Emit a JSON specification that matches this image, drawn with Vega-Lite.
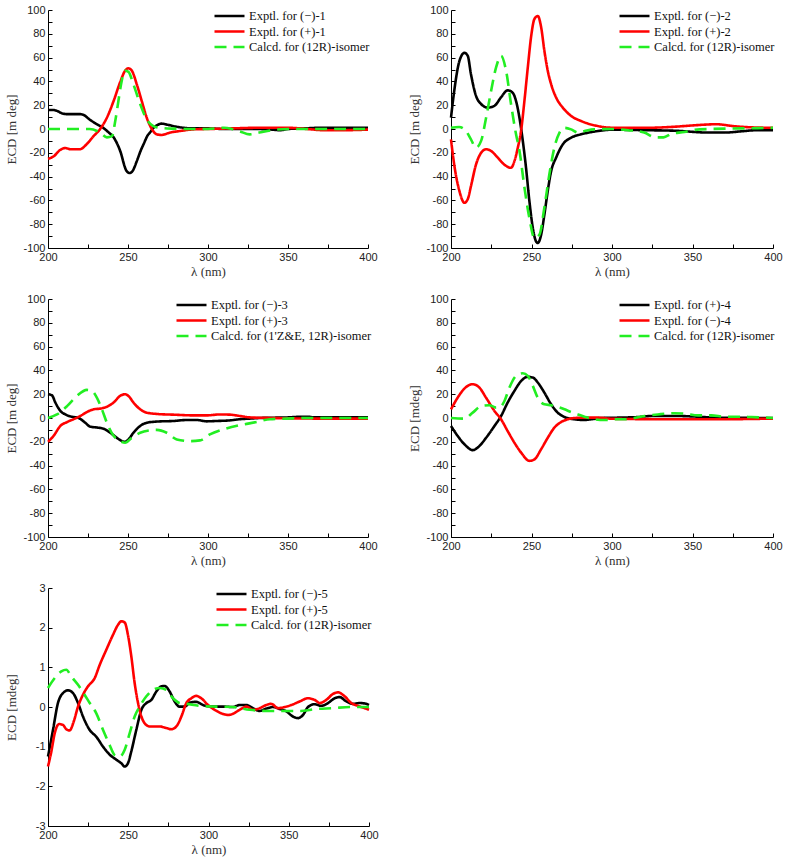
{
  "$schema": "https://vega.github.io/schema/vega-lite/v6.json",
  "background": "white",
  "padding": {"left": 5, "top": 4, "right": 5, "bottom": 5},
  "spacing": 15,
  "datasets": {
    "p1": [
      {"s": "Exptl. for (−)-1", "x": 200, "y": 16}, {"s": "Exptl. for (−)-1", "x": 203, "y": 16}, {"s": "Exptl. for (−)-1", "x": 206, "y": 15}, {"s": "Exptl. for (−)-1", "x": 209, "y": 13}, {"s": "Exptl. for (−)-1", "x": 212, "y": 12.5}, {"s": "Exptl. for (−)-1", "x": 216, "y": 12.5}, {"s": "Exptl. for (−)-1", "x": 220, "y": 12.5}, {"s": "Exptl. for (−)-1", "x": 222, "y": 12}, {"s": "Exptl. for (−)-1", "x": 226, "y": 8}, {"s": "Exptl. for (−)-1", "x": 230.5, "y": 4}, {"s": "Exptl. for (−)-1", "x": 234.5, "y": 1}, {"s": "Exptl. for (−)-1", "x": 238, "y": -3}, {"s": "Exptl. for (−)-1", "x": 241, "y": -7}, {"s": "Exptl. for (−)-1", "x": 245, "y": -18}, {"s": "Exptl. for (−)-1", "x": 249, "y": -35}, {"s": "Exptl. for (−)-1", "x": 251, "y": -37}, {"s": "Exptl. for (−)-1", "x": 253, "y": -35}, {"s": "Exptl. for (−)-1", "x": 255.5, "y": -27}, {"s": "Exptl. for (−)-1", "x": 258, "y": -18}, {"s": "Exptl. for (−)-1", "x": 260, "y": -12}, {"s": "Exptl. for (−)-1", "x": 262, "y": -6}, {"s": "Exptl. for (−)-1", "x": 264, "y": -2.5}, {"s": "Exptl. for (−)-1", "x": 266, "y": 1}, {"s": "Exptl. for (−)-1", "x": 268, "y": 3}, {"s": "Exptl. for (−)-1", "x": 271, "y": 4.5}, {"s": "Exptl. for (−)-1", "x": 275, "y": 3.5}, {"s": "Exptl. for (−)-1", "x": 280, "y": 2}, {"s": "Exptl. for (−)-1", "x": 285, "y": 1}, {"s": "Exptl. for (−)-1", "x": 290, "y": 0.5}, {"s": "Exptl. for (−)-1", "x": 300, "y": 0.5}, {"s": "Exptl. for (−)-1", "x": 310, "y": 0}, {"s": "Exptl. for (−)-1", "x": 320, "y": 0}, {"s": "Exptl. for (−)-1", "x": 330, "y": 0}, {"s": "Exptl. for (−)-1", "x": 340, "y": -0.5}, {"s": "Exptl. for (−)-1", "x": 345, "y": -1}, {"s": "Exptl. for (−)-1", "x": 350, "y": 0}, {"s": "Exptl. for (−)-1", "x": 360, "y": 0.5}, {"s": "Exptl. for (−)-1", "x": 370, "y": 1}, {"s": "Exptl. for (−)-1", "x": 385, "y": 1}, {"s": "Exptl. for (−)-1", "x": 400, "y": 1},
      {"s": "Exptl. for (+)-1", "x": 200, "y": -25}, {"s": "Exptl. for (+)-1", "x": 203.5, "y": -23}, {"s": "Exptl. for (+)-1", "x": 207.7, "y": -17.5}, {"s": "Exptl. for (+)-1", "x": 210.8, "y": -16}, {"s": "Exptl. for (+)-1", "x": 214, "y": -17}, {"s": "Exptl. for (+)-1", "x": 220, "y": -17}, {"s": "Exptl. for (+)-1", "x": 224, "y": -13}, {"s": "Exptl. for (+)-1", "x": 228.5, "y": -6}, {"s": "Exptl. for (+)-1", "x": 232.6, "y": 0}, {"s": "Exptl. for (+)-1", "x": 236.8, "y": 9.5}, {"s": "Exptl. for (+)-1", "x": 241, "y": 23.5}, {"s": "Exptl. for (+)-1", "x": 245, "y": 39}, {"s": "Exptl. for (+)-1", "x": 248.2, "y": 49}, {"s": "Exptl. for (+)-1", "x": 250.3, "y": 51}, {"s": "Exptl. for (+)-1", "x": 252.4, "y": 49}, {"s": "Exptl. for (+)-1", "x": 255.5, "y": 37.5}, {"s": "Exptl. for (+)-1", "x": 258.6, "y": 23.5}, {"s": "Exptl. for (+)-1", "x": 261.7, "y": 9.5}, {"s": "Exptl. for (+)-1", "x": 264.9, "y": 0}, {"s": "Exptl. for (+)-1", "x": 268, "y": -4.5}, {"s": "Exptl. for (+)-1", "x": 271, "y": -5}, {"s": "Exptl. for (+)-1", "x": 276.3, "y": -3}, {"s": "Exptl. for (+)-1", "x": 282.5, "y": -1.7}, {"s": "Exptl. for (+)-1", "x": 291, "y": -0.3}, {"s": "Exptl. for (+)-1", "x": 300, "y": 0}, {"s": "Exptl. for (+)-1", "x": 315, "y": 0.5}, {"s": "Exptl. for (+)-1", "x": 330, "y": 1}, {"s": "Exptl. for (+)-1", "x": 350, "y": 1}, {"s": "Exptl. for (+)-1", "x": 362, "y": 0}, {"s": "Exptl. for (+)-1", "x": 372, "y": -1}, {"s": "Exptl. for (+)-1", "x": 385, "y": -1}, {"s": "Exptl. for (+)-1", "x": 400, "y": -0.5},
      {"s": "Calcd. for (12R)-isomer", "x": 200, "y": 0}, {"s": "Calcd. for (12R)-isomer", "x": 215, "y": 0}, {"s": "Calcd. for (12R)-isomer", "x": 226, "y": 0}, {"s": "Calcd. for (12R)-isomer", "x": 232.6, "y": -3}, {"s": "Calcd. for (12R)-isomer", "x": 236.8, "y": -7}, {"s": "Calcd. for (12R)-isomer", "x": 240, "y": -6}, {"s": "Calcd. for (12R)-isomer", "x": 242, "y": 6.5}, {"s": "Calcd. for (12R)-isomer", "x": 244, "y": 23.5}, {"s": "Calcd. for (12R)-isomer", "x": 246, "y": 40}, {"s": "Calcd. for (12R)-isomer", "x": 248.2, "y": 49}, {"s": "Calcd. for (12R)-isomer", "x": 250.3, "y": 48}, {"s": "Calcd. for (12R)-isomer", "x": 253.4, "y": 37.5}, {"s": "Calcd. for (12R)-isomer", "x": 257.6, "y": 21}, {"s": "Calcd. for (12R)-isomer", "x": 261.7, "y": 8}, {"s": "Calcd. for (12R)-isomer", "x": 265.9, "y": 2.5}, {"s": "Calcd. for (12R)-isomer", "x": 270, "y": 1}, {"s": "Calcd. for (12R)-isomer", "x": 278, "y": 0.3}, {"s": "Calcd. for (12R)-isomer", "x": 290, "y": 0}, {"s": "Calcd. for (12R)-isomer", "x": 300, "y": 0}, {"s": "Calcd. for (12R)-isomer", "x": 310, "y": 1}, {"s": "Calcd. for (12R)-isomer", "x": 315, "y": 0}, {"s": "Calcd. for (12R)-isomer", "x": 320, "y": -2}, {"s": "Calcd. for (12R)-isomer", "x": 326, "y": -4.5}, {"s": "Calcd. for (12R)-isomer", "x": 332, "y": -3}, {"s": "Calcd. for (12R)-isomer", "x": 340, "y": -1}, {"s": "Calcd. for (12R)-isomer", "x": 350, "y": 0}, {"s": "Calcd. for (12R)-isomer", "x": 375, "y": 0}, {"s": "Calcd. for (12R)-isomer", "x": 400, "y": 0}
    ],
    "p2": [
      {"s": "Exptl. for (−)-2", "x": 200, "y": 9.6}, {"s": "Exptl. for (−)-2", "x": 202, "y": 32}, {"s": "Exptl. for (−)-2", "x": 205.2, "y": 57}, {"s": "Exptl. for (−)-2", "x": 208.3, "y": 64}, {"s": "Exptl. for (−)-2", "x": 210.4, "y": 61.5}, {"s": "Exptl. for (−)-2", "x": 212.4, "y": 46}, {"s": "Exptl. for (−)-2", "x": 215.5, "y": 28}, {"s": "Exptl. for (−)-2", "x": 218.7, "y": 21}, {"s": "Exptl. for (−)-2", "x": 222.8, "y": 18}, {"s": "Exptl. for (−)-2", "x": 227, "y": 19.5}, {"s": "Exptl. for (−)-2", "x": 231, "y": 26.5}, {"s": "Exptl. for (−)-2", "x": 235.2, "y": 32.5}, {"s": "Exptl. for (−)-2", "x": 238.3, "y": 30.5}, {"s": "Exptl. for (−)-2", "x": 240.4, "y": 23.5}, {"s": "Exptl. for (−)-2", "x": 242.5, "y": 9.6}, {"s": "Exptl. for (−)-2", "x": 244.6, "y": -10}, {"s": "Exptl. for (−)-2", "x": 246.6, "y": -32.6}, {"s": "Exptl. for (−)-2", "x": 248.7, "y": -60.7}, {"s": "Exptl. for (−)-2", "x": 250.8, "y": -83}, {"s": "Exptl. for (−)-2", "x": 252.8, "y": -94.4}, {"s": "Exptl. for (−)-2", "x": 253.9, "y": -95.8}, {"s": "Exptl. for (−)-2", "x": 256, "y": -88.8}, {"s": "Exptl. for (−)-2", "x": 258, "y": -72}, {"s": "Exptl. for (−)-2", "x": 260.1, "y": -52}, {"s": "Exptl. for (−)-2", "x": 262.2, "y": -35.4}, {"s": "Exptl. for (−)-2", "x": 265.3, "y": -24}, {"s": "Exptl. for (−)-2", "x": 269.4, "y": -13}, {"s": "Exptl. for (−)-2", "x": 274.6, "y": -7.3}, {"s": "Exptl. for (−)-2", "x": 280.8, "y": -4.5}, {"s": "Exptl. for (−)-2", "x": 291.2, "y": -1.7}, {"s": "Exptl. for (−)-2", "x": 299.5, "y": -0.6}, {"s": "Exptl. for (−)-2", "x": 320, "y": -1}, {"s": "Exptl. for (−)-2", "x": 340, "y": -1.5}, {"s": "Exptl. for (−)-2", "x": 360, "y": -3}, {"s": "Exptl. for (−)-2", "x": 370, "y": -3}, {"s": "Exptl. for (−)-2", "x": 380, "y": -2}, {"s": "Exptl. for (−)-2", "x": 390, "y": -1}, {"s": "Exptl. for (−)-2", "x": 400, "y": -1},
      {"s": "Exptl. for (+)-2", "x": 200, "y": -8.7}, {"s": "Exptl. for (+)-2", "x": 202, "y": -30}, {"s": "Exptl. for (+)-2", "x": 205.2, "y": -52}, {"s": "Exptl. for (+)-2", "x": 208.3, "y": -62}, {"s": "Exptl. for (+)-2", "x": 210.4, "y": -59}, {"s": "Exptl. for (+)-2", "x": 212.4, "y": -48}, {"s": "Exptl. for (+)-2", "x": 215.5, "y": -30}, {"s": "Exptl. for (+)-2", "x": 218.7, "y": -20}, {"s": "Exptl. for (+)-2", "x": 221.8, "y": -17}, {"s": "Exptl. for (+)-2", "x": 224.9, "y": -18.5}, {"s": "Exptl. for (+)-2", "x": 229, "y": -24}, {"s": "Exptl. for (+)-2", "x": 233.2, "y": -30}, {"s": "Exptl. for (+)-2", "x": 237.3, "y": -32.6}, {"s": "Exptl. for (+)-2", "x": 239.4, "y": -27}, {"s": "Exptl. for (+)-2", "x": 241.5, "y": -15.7}, {"s": "Exptl. for (+)-2", "x": 243.5, "y": -1.7}, {"s": "Exptl. for (+)-2", "x": 245.6, "y": 23.6}, {"s": "Exptl. for (+)-2", "x": 247.7, "y": 51.7}, {"s": "Exptl. for (+)-2", "x": 249.7, "y": 77}, {"s": "Exptl. for (+)-2", "x": 251.8, "y": 92.4}, {"s": "Exptl. for (+)-2", "x": 253.9, "y": 95}, {"s": "Exptl. for (+)-2", "x": 256, "y": 85.4}, {"s": "Exptl. for (+)-2", "x": 258, "y": 65.7}, {"s": "Exptl. for (+)-2", "x": 260.1, "y": 48.9}, {"s": "Exptl. for (+)-2", "x": 262.2, "y": 37.6}, {"s": "Exptl. for (+)-2", "x": 265.3, "y": 26.4}, {"s": "Exptl. for (+)-2", "x": 269.4, "y": 18}, {"s": "Exptl. for (+)-2", "x": 274.6, "y": 11}, {"s": "Exptl. for (+)-2", "x": 280.8, "y": 6.7}, {"s": "Exptl. for (+)-2", "x": 291.2, "y": 2.5}, {"s": "Exptl. for (+)-2", "x": 299.5, "y": 1.1}, {"s": "Exptl. for (+)-2", "x": 320, "y": 1}, {"s": "Exptl. for (+)-2", "x": 340, "y": 2}, {"s": "Exptl. for (+)-2", "x": 350, "y": 3}, {"s": "Exptl. for (+)-2", "x": 365, "y": 4}, {"s": "Exptl. for (+)-2", "x": 375, "y": 2.5}, {"s": "Exptl. for (+)-2", "x": 385, "y": 1.5}, {"s": "Exptl. for (+)-2", "x": 400, "y": 1},
      {"s": "Calcd. for (12R)-isomer", "x": 200, "y": 1}, {"s": "Calcd. for (12R)-isomer", "x": 205, "y": 1.7}, {"s": "Calcd. for (12R)-isomer", "x": 209.3, "y": -1.7}, {"s": "Calcd. for (12R)-isomer", "x": 212.4, "y": -8.7}, {"s": "Calcd. for (12R)-isomer", "x": 215.5, "y": -15.7}, {"s": "Calcd. for (12R)-isomer", "x": 218.7, "y": -10}, {"s": "Calcd. for (12R)-isomer", "x": 221.8, "y": 9.5}, {"s": "Calcd. for (12R)-isomer", "x": 224.9, "y": 32}, {"s": "Calcd. for (12R)-isomer", "x": 228, "y": 51.7}, {"s": "Calcd. for (12R)-isomer", "x": 231.1, "y": 61.5}, {"s": "Calcd. for (12R)-isomer", "x": 234.2, "y": 49}, {"s": "Calcd. for (12R)-isomer", "x": 237.3, "y": 20.8}, {"s": "Calcd. for (12R)-isomer", "x": 240.4, "y": -4.5}, {"s": "Calcd. for (12R)-isomer", "x": 242.5, "y": -18}, {"s": "Calcd. for (12R)-isomer", "x": 245.6, "y": -49}, {"s": "Calcd. for (12R)-isomer", "x": 248.7, "y": -75}, {"s": "Calcd. for (12R)-isomer", "x": 251.8, "y": -91.6}, {"s": "Calcd. for (12R)-isomer", "x": 254.9, "y": -88.8}, {"s": "Calcd. for (12R)-isomer", "x": 258, "y": -66}, {"s": "Calcd. for (12R)-isomer", "x": 261.1, "y": -38}, {"s": "Calcd. for (12R)-isomer", "x": 264.2, "y": -15.7}, {"s": "Calcd. for (12R)-isomer", "x": 267.4, "y": -3}, {"s": "Calcd. for (12R)-isomer", "x": 270.5, "y": 1}, {"s": "Calcd. for (12R)-isomer", "x": 274.6, "y": -0.3}, {"s": "Calcd. for (12R)-isomer", "x": 278.8, "y": -3}, {"s": "Calcd. for (12R)-isomer", "x": 283, "y": -1.7}, {"s": "Calcd. for (12R)-isomer", "x": 289, "y": -0.3}, {"s": "Calcd. for (12R)-isomer", "x": 300, "y": 0}, {"s": "Calcd. for (12R)-isomer", "x": 310, "y": -1}, {"s": "Calcd. for (12R)-isomer", "x": 320, "y": -3}, {"s": "Calcd. for (12R)-isomer", "x": 327, "y": -7}, {"s": "Calcd. for (12R)-isomer", "x": 332, "y": -7}, {"s": "Calcd. for (12R)-isomer", "x": 337, "y": -4}, {"s": "Calcd. for (12R)-isomer", "x": 345, "y": -2.5}, {"s": "Calcd. for (12R)-isomer", "x": 350, "y": -1}, {"s": "Calcd. for (12R)-isomer", "x": 360, "y": 0}, {"s": "Calcd. for (12R)-isomer", "x": 380, "y": 0.5}, {"s": "Calcd. for (12R)-isomer", "x": 400, "y": 1}
    ],
    "p3": [
      {"s": "Exptl. for (−)-3", "x": 200, "y": 20}, {"s": "Exptl. for (−)-3", "x": 202.5, "y": 19}, {"s": "Exptl. for (−)-3", "x": 204.6, "y": 13}, {"s": "Exptl. for (−)-3", "x": 207.7, "y": 6}, {"s": "Exptl. for (−)-3", "x": 210.8, "y": 3}, {"s": "Exptl. for (−)-3", "x": 215, "y": 1}, {"s": "Exptl. for (−)-3", "x": 219.1, "y": 0}, {"s": "Exptl. for (−)-3", "x": 223.3, "y": -4}, {"s": "Exptl. for (−)-3", "x": 226.4, "y": -7.3}, {"s": "Exptl. for (−)-3", "x": 230.6, "y": -8}, {"s": "Exptl. for (−)-3", "x": 234.7, "y": -9}, {"s": "Exptl. for (−)-3", "x": 238.9, "y": -12.4}, {"s": "Exptl. for (−)-3", "x": 243, "y": -16.6}, {"s": "Exptl. for (−)-3", "x": 246.2, "y": -19.4}, {"s": "Exptl. for (−)-3", "x": 248.2, "y": -20}, {"s": "Exptl. for (−)-3", "x": 250.3, "y": -18}, {"s": "Exptl. for (−)-3", "x": 253.4, "y": -12.4}, {"s": "Exptl. for (−)-3", "x": 257.6, "y": -6.7}, {"s": "Exptl. for (−)-3", "x": 261.7, "y": -4}, {"s": "Exptl. for (−)-3", "x": 268, "y": -3}, {"s": "Exptl. for (−)-3", "x": 278.4, "y": -2.5}, {"s": "Exptl. for (−)-3", "x": 286.7, "y": -1.7}, {"s": "Exptl. for (−)-3", "x": 293, "y": -1.7}, {"s": "Exptl. for (−)-3", "x": 299.2, "y": -2.8}, {"s": "Exptl. for (−)-3", "x": 305.4, "y": -2.5}, {"s": "Exptl. for (−)-3", "x": 313.7, "y": -2}, {"s": "Exptl. for (−)-3", "x": 320, "y": -1}, {"s": "Exptl. for (−)-3", "x": 326.2, "y": -0.5}, {"s": "Exptl. for (−)-3", "x": 332.4, "y": 0}, {"s": "Exptl. for (−)-3", "x": 350, "y": 0.5}, {"s": "Exptl. for (−)-3", "x": 358, "y": 1}, {"s": "Exptl. for (−)-3", "x": 363, "y": 1}, {"s": "Exptl. for (−)-3", "x": 366, "y": 0.5}, {"s": "Exptl. for (−)-3", "x": 400, "y": 0.5},
      {"s": "Exptl. for (+)-3", "x": 200, "y": -20}, {"s": "Exptl. for (+)-3", "x": 203.5, "y": -15}, {"s": "Exptl. for (+)-3", "x": 207.7, "y": -6.7}, {"s": "Exptl. for (+)-3", "x": 211.9, "y": -3.4}, {"s": "Exptl. for (+)-3", "x": 216, "y": -1}, {"s": "Exptl. for (+)-3", "x": 220.2, "y": 1.7}, {"s": "Exptl. for (+)-3", "x": 224.3, "y": 5}, {"s": "Exptl. for (+)-3", "x": 228.5, "y": 7.3}, {"s": "Exptl. for (+)-3", "x": 232.6, "y": 7.9}, {"s": "Exptl. for (+)-3", "x": 236.8, "y": 9.5}, {"s": "Exptl. for (+)-3", "x": 241, "y": 13}, {"s": "Exptl. for (+)-3", "x": 245, "y": 18.5}, {"s": "Exptl. for (+)-3", "x": 248.2, "y": 20}, {"s": "Exptl. for (+)-3", "x": 250.3, "y": 18.5}, {"s": "Exptl. for (+)-3", "x": 253.4, "y": 13}, {"s": "Exptl. for (+)-3", "x": 257.6, "y": 7.3}, {"s": "Exptl. for (+)-3", "x": 261.7, "y": 4.5}, {"s": "Exptl. for (+)-3", "x": 268, "y": 3.4}, {"s": "Exptl. for (+)-3", "x": 278.4, "y": 2.8}, {"s": "Exptl. for (+)-3", "x": 290.9, "y": 2.2}, {"s": "Exptl. for (+)-3", "x": 299.2, "y": 2.2}, {"s": "Exptl. for (+)-3", "x": 307.5, "y": 3}, {"s": "Exptl. for (+)-3", "x": 313.7, "y": 2.8}, {"s": "Exptl. for (+)-3", "x": 320, "y": 1.7}, {"s": "Exptl. for (+)-3", "x": 326.2, "y": 0.5}, {"s": "Exptl. for (+)-3", "x": 340, "y": 0}, {"s": "Exptl. for (+)-3", "x": 370, "y": -0.5}, {"s": "Exptl. for (+)-3", "x": 400, "y": -0.5},
      {"s": "Calcd. for (1'Z&E, 12R)-isomer", "x": 200, "y": 0}, {"s": "Calcd. for (1'Z&E, 12R)-isomer", "x": 205.6, "y": 3}, {"s": "Calcd. for (1'Z&E, 12R)-isomer", "x": 211.9, "y": 10}, {"s": "Calcd. for (1'Z&E, 12R)-isomer", "x": 218, "y": 18.5}, {"s": "Calcd. for (1'Z&E, 12R)-isomer", "x": 224.3, "y": 23.6}, {"s": "Calcd. for (1'Z&E, 12R)-isomer", "x": 227.4, "y": 22.8}, {"s": "Calcd. for (1'Z&E, 12R)-isomer", "x": 230.6, "y": 17}, {"s": "Calcd. for (1'Z&E, 12R)-isomer", "x": 233.7, "y": 7.3}, {"s": "Calcd. for (1'Z&E, 12R)-isomer", "x": 236.8, "y": -4}, {"s": "Calcd. for (1'Z&E, 12R)-isomer", "x": 241, "y": -15}, {"s": "Calcd. for (1'Z&E, 12R)-isomer", "x": 245.1, "y": -19.4}, {"s": "Calcd. for (1'Z&E, 12R)-isomer", "x": 248.2, "y": -20.8}, {"s": "Calcd. for (1'Z&E, 12R)-isomer", "x": 252.4, "y": -16.6}, {"s": "Calcd. for (1'Z&E, 12R)-isomer", "x": 257.6, "y": -12.4}, {"s": "Calcd. for (1'Z&E, 12R)-isomer", "x": 263.8, "y": -10.4}, {"s": "Calcd. for (1'Z&E, 12R)-isomer", "x": 268, "y": -10}, {"s": "Calcd. for (1'Z&E, 12R)-isomer", "x": 274.2, "y": -12.4}, {"s": "Calcd. for (1'Z&E, 12R)-isomer", "x": 280.5, "y": -18}, {"s": "Calcd. for (1'Z&E, 12R)-isomer", "x": 288.8, "y": -19.4}, {"s": "Calcd. for (1'Z&E, 12R)-isomer", "x": 295, "y": -18.8}, {"s": "Calcd. for (1'Z&E, 12R)-isomer", "x": 301.2, "y": -13.8}, {"s": "Calcd. for (1'Z&E, 12R)-isomer", "x": 309.6, "y": -9.6}, {"s": "Calcd. for (1'Z&E, 12R)-isomer", "x": 320, "y": -6}, {"s": "Calcd. for (1'Z&E, 12R)-isomer", "x": 330.4, "y": -3.4}, {"s": "Calcd. for (1'Z&E, 12R)-isomer", "x": 338.7, "y": -1}, {"s": "Calcd. for (1'Z&E, 12R)-isomer", "x": 349, "y": -0.5}, {"s": "Calcd. for (1'Z&E, 12R)-isomer", "x": 360, "y": 0}, {"s": "Calcd. for (1'Z&E, 12R)-isomer", "x": 400, "y": 0}
    ],
    "p4": [
      {"s": "Exptl. for (+)-4", "x": 200, "y": -6.7}, {"s": "Exptl. for (+)-4", "x": 204.1, "y": -15}, {"s": "Exptl. for (+)-4", "x": 208.3, "y": -22}, {"s": "Exptl. for (+)-4", "x": 213.5, "y": -27}, {"s": "Exptl. for (+)-4", "x": 217.6, "y": -23.6}, {"s": "Exptl. for (+)-4", "x": 221.8, "y": -16.6}, {"s": "Exptl. for (+)-4", "x": 227, "y": -6.7}, {"s": "Exptl. for (+)-4", "x": 231.1, "y": 1.7}, {"s": "Exptl. for (+)-4", "x": 235.2, "y": 13}, {"s": "Exptl. for (+)-4", "x": 239.4, "y": 22.8}, {"s": "Exptl. for (+)-4", "x": 243.5, "y": 31}, {"s": "Exptl. for (+)-4", "x": 247.7, "y": 34.6}, {"s": "Exptl. for (+)-4", "x": 250.8, "y": 34}, {"s": "Exptl. for (+)-4", "x": 253.9, "y": 29.8}, {"s": "Exptl. for (+)-4", "x": 258, "y": 21.3}, {"s": "Exptl. for (+)-4", "x": 262.2, "y": 11.5}, {"s": "Exptl. for (+)-4", "x": 266.3, "y": 4.5}, {"s": "Exptl. for (+)-4", "x": 270.5, "y": 0.8}, {"s": "Exptl. for (+)-4", "x": 276.7, "y": -1.1}, {"s": "Exptl. for (+)-4", "x": 282.9, "y": -1.7}, {"s": "Exptl. for (+)-4", "x": 287, "y": -1.1}, {"s": "Exptl. for (+)-4", "x": 293.3, "y": 0}, {"s": "Exptl. for (+)-4", "x": 303.6, "y": 0.3}, {"s": "Exptl. for (+)-4", "x": 316, "y": 0.8}, {"s": "Exptl. for (+)-4", "x": 324.4, "y": 1.7}, {"s": "Exptl. for (+)-4", "x": 338.9, "y": 1.7}, {"s": "Exptl. for (+)-4", "x": 353.4, "y": 1.1}, {"s": "Exptl. for (+)-4", "x": 363.7, "y": 0.3}, {"s": "Exptl. for (+)-4", "x": 400, "y": 0},
      {"s": "Exptl. for (−)-4", "x": 200, "y": 7.3}, {"s": "Exptl. for (−)-4", "x": 204.1, "y": 17}, {"s": "Exptl. for (−)-4", "x": 208.3, "y": 24.7}, {"s": "Exptl. for (−)-4", "x": 213.5, "y": 28.4}, {"s": "Exptl. for (−)-4", "x": 217.6, "y": 25.6}, {"s": "Exptl. for (−)-4", "x": 221.8, "y": 17}, {"s": "Exptl. for (−)-4", "x": 227, "y": 5.9}, {"s": "Exptl. for (−)-4", "x": 231.1, "y": -1.1}, {"s": "Exptl. for (−)-4", "x": 235.2, "y": -11}, {"s": "Exptl. for (−)-4", "x": 239.4, "y": -20.8}, {"s": "Exptl. for (−)-4", "x": 243.5, "y": -29}, {"s": "Exptl. for (−)-4", "x": 248.7, "y": -36}, {"s": "Exptl. for (−)-4", "x": 251.8, "y": -34.8}, {"s": "Exptl. for (−)-4", "x": 255.9, "y": -26.4}, {"s": "Exptl. for (−)-4", "x": 260.1, "y": -16.6}, {"s": "Exptl. for (−)-4", "x": 264.2, "y": -8.1}, {"s": "Exptl. for (−)-4", "x": 268.4, "y": -3.4}, {"s": "Exptl. for (−)-4", "x": 272.5, "y": -1.1}, {"s": "Exptl. for (−)-4", "x": 276.7, "y": 0}, {"s": "Exptl. for (−)-4", "x": 282.9, "y": 0.3}, {"s": "Exptl. for (−)-4", "x": 291.2, "y": 0.3}, {"s": "Exptl. for (−)-4", "x": 299.5, "y": -0.6}, {"s": "Exptl. for (−)-4", "x": 307.8, "y": -0.8}, {"s": "Exptl. for (−)-4", "x": 330, "y": -1}, {"s": "Exptl. for (−)-4", "x": 370, "y": -1}, {"s": "Exptl. for (−)-4", "x": 400, "y": -0.5},
      {"s": "Calcd. for (12R)-isomer", "x": 200, "y": 0}, {"s": "Calcd. for (12R)-isomer", "x": 208.3, "y": -0.5}, {"s": "Calcd. for (12R)-isomer", "x": 213.5, "y": 4.5}, {"s": "Calcd. for (12R)-isomer", "x": 218.7, "y": 10}, {"s": "Calcd. for (12R)-isomer", "x": 223.8, "y": 10.7}, {"s": "Calcd. for (12R)-isomer", "x": 228, "y": 8.7}, {"s": "Calcd. for (12R)-isomer", "x": 230, "y": 8.7}, {"s": "Calcd. for (12R)-isomer", "x": 233.2, "y": 14.3}, {"s": "Calcd. for (12R)-isomer", "x": 236.3, "y": 25.6}, {"s": "Calcd. for (12R)-isomer", "x": 240.4, "y": 35.4}, {"s": "Calcd. for (12R)-isomer", "x": 244.6, "y": 37.6}, {"s": "Calcd. for (12R)-isomer", "x": 247.7, "y": 35.4}, {"s": "Calcd. for (12R)-isomer", "x": 250.8, "y": 27}, {"s": "Calcd. for (12R)-isomer", "x": 253.9, "y": 17}, {"s": "Calcd. for (12R)-isomer", "x": 258, "y": 11.5}, {"s": "Calcd. for (12R)-isomer", "x": 262.2, "y": 10.7}, {"s": "Calcd. for (12R)-isomer", "x": 266.3, "y": 9.3}, {"s": "Calcd. for (12R)-isomer", "x": 270.5, "y": 7.3}, {"s": "Calcd. for (12R)-isomer", "x": 274.6, "y": 5}, {"s": "Calcd. for (12R)-isomer", "x": 278.8, "y": 3}, {"s": "Calcd. for (12R)-isomer", "x": 282.9, "y": 1.1}, {"s": "Calcd. for (12R)-isomer", "x": 289.1, "y": -1.1}, {"s": "Calcd. for (12R)-isomer", "x": 295.3, "y": -1.7}, {"s": "Calcd. for (12R)-isomer", "x": 301.6, "y": -1.1}, {"s": "Calcd. for (12R)-isomer", "x": 307.8, "y": -1.1}, {"s": "Calcd. for (12R)-isomer", "x": 311.9, "y": -0.5}, {"s": "Calcd. for (12R)-isomer", "x": 320.2, "y": 1.7}, {"s": "Calcd. for (12R)-isomer", "x": 328.5, "y": 3}, {"s": "Calcd. for (12R)-isomer", "x": 338.9, "y": 4}, {"s": "Calcd. for (12R)-isomer", "x": 345.1, "y": 3.7}, {"s": "Calcd. for (12R)-isomer", "x": 353.4, "y": 2.2}, {"s": "Calcd. for (12R)-isomer", "x": 361.7, "y": 2.2}, {"s": "Calcd. for (12R)-isomer", "x": 370, "y": 1.1}, {"s": "Calcd. for (12R)-isomer", "x": 378.2, "y": 1.1}, {"s": "Calcd. for (12R)-isomer", "x": 386.5, "y": 0.8}, {"s": "Calcd. for (12R)-isomer", "x": 400, "y": 0}
    ],
    "p5": [
      {"s": "Exptl. for (−)-5", "x": 200, "y": -1.25}, {"s": "Exptl. for (−)-5", "x": 203.1, "y": -0.58}, {"s": "Exptl. for (−)-5", "x": 206.2, "y": 0.1}, {"s": "Exptl. for (−)-5", "x": 209.3, "y": 0.35}, {"s": "Exptl. for (−)-5", "x": 212.5, "y": 0.42}, {"s": "Exptl. for (−)-5", "x": 215.6, "y": 0.35}, {"s": "Exptl. for (−)-5", "x": 218.7, "y": 0.1}, {"s": "Exptl. for (−)-5", "x": 221.8, "y": -0.24}, {"s": "Exptl. for (−)-5", "x": 226, "y": -0.58}, {"s": "Exptl. for (−)-5", "x": 230.1, "y": -0.75}, {"s": "Exptl. for (−)-5", "x": 234.3, "y": -1}, {"s": "Exptl. for (−)-5", "x": 238.4, "y": -1.2}, {"s": "Exptl. for (−)-5", "x": 242.6, "y": -1.33}, {"s": "Exptl. for (−)-5", "x": 245.7, "y": -1.42}, {"s": "Exptl. for (−)-5", "x": 247.8, "y": -1.5}, {"s": "Exptl. for (−)-5", "x": 249.8, "y": -1.42}, {"s": "Exptl. for (−)-5", "x": 251.9, "y": -1.12}, {"s": "Exptl. for (−)-5", "x": 255, "y": -0.58}, {"s": "Exptl. for (−)-5", "x": 258.2, "y": -0.07}, {"s": "Exptl. for (−)-5", "x": 261.3, "y": 0.1}, {"s": "Exptl. for (−)-5", "x": 264.4, "y": 0.18}, {"s": "Exptl. for (−)-5", "x": 267.5, "y": 0.39}, {"s": "Exptl. for (−)-5", "x": 270.6, "y": 0.52}, {"s": "Exptl. for (−)-5", "x": 272.7, "y": 0.53}, {"s": "Exptl. for (−)-5", "x": 275.8, "y": 0.39}, {"s": "Exptl. for (−)-5", "x": 278.9, "y": 0.14}, {"s": "Exptl. for (−)-5", "x": 282, "y": 0.01}, {"s": "Exptl. for (−)-5", "x": 285.2, "y": 0.01}, {"s": "Exptl. for (−)-5", "x": 288.3, "y": 0.11}, {"s": "Exptl. for (−)-5", "x": 292.4, "y": 0.13}, {"s": "Exptl. for (−)-5", "x": 296.6, "y": 0.05}, {"s": "Exptl. for (−)-5", "x": 302.8, "y": 0.01}, {"s": "Exptl. for (−)-5", "x": 309, "y": 0.01}, {"s": "Exptl. for (−)-5", "x": 315.3, "y": 0}, {"s": "Exptl. for (−)-5", "x": 319.4, "y": 0.05}, {"s": "Exptl. for (−)-5", "x": 323.6, "y": 0.05}, {"s": "Exptl. for (−)-5", "x": 327.7, "y": -0.03}, {"s": "Exptl. for (−)-5", "x": 331.9, "y": -0.1}, {"s": "Exptl. for (−)-5", "x": 336, "y": -0.04}, {"s": "Exptl. for (−)-5", "x": 340.2, "y": 0}, {"s": "Exptl. for (−)-5", "x": 344.3, "y": -0.05}, {"s": "Exptl. for (−)-5", "x": 348.5, "y": -0.11}, {"s": "Exptl. for (−)-5", "x": 352.6, "y": -0.24}, {"s": "Exptl. for (−)-5", "x": 355.8, "y": -0.28}, {"s": "Exptl. for (−)-5", "x": 358.9, "y": -0.2}, {"s": "Exptl. for (−)-5", "x": 362, "y": 0}, {"s": "Exptl. for (−)-5", "x": 366.1, "y": 0.07}, {"s": "Exptl. for (−)-5", "x": 370.3, "y": 0.03}, {"s": "Exptl. for (−)-5", "x": 374.5, "y": 0.1}, {"s": "Exptl. for (−)-5", "x": 378.6, "y": 0.22}, {"s": "Exptl. for (−)-5", "x": 381.7, "y": 0.25}, {"s": "Exptl. for (−)-5", "x": 385.9, "y": 0.14}, {"s": "Exptl. for (−)-5", "x": 390, "y": 0.08}, {"s": "Exptl. for (−)-5", "x": 394.2, "y": 0.1}, {"s": "Exptl. for (−)-5", "x": 398.3, "y": 0.08}, {"s": "Exptl. for (−)-5", "x": 400, "y": 0.05},
      {"s": "Exptl. for (+)-5", "x": 200, "y": -1.5}, {"s": "Exptl. for (+)-5", "x": 202.1, "y": -1.12}, {"s": "Exptl. for (+)-5", "x": 204.2, "y": -0.66}, {"s": "Exptl. for (+)-5", "x": 206.9, "y": -0.43}, {"s": "Exptl. for (+)-5", "x": 209.3, "y": -0.45}, {"s": "Exptl. for (+)-5", "x": 211.4, "y": -0.56}, {"s": "Exptl. for (+)-5", "x": 213.5, "y": -0.59}, {"s": "Exptl. for (+)-5", "x": 216, "y": -0.37}, {"s": "Exptl. for (+)-5", "x": 218.7, "y": 0.01}, {"s": "Exptl. for (+)-5", "x": 221.8, "y": 0.31}, {"s": "Exptl. for (+)-5", "x": 224.9, "y": 0.52}, {"s": "Exptl. for (+)-5", "x": 229.1, "y": 0.73}, {"s": "Exptl. for (+)-5", "x": 232.2, "y": 1.06}, {"s": "Exptl. for (+)-5", "x": 236.3, "y": 1.44}, {"s": "Exptl. for (+)-5", "x": 240.5, "y": 1.82}, {"s": "Exptl. for (+)-5", "x": 243.6, "y": 2.07}, {"s": "Exptl. for (+)-5", "x": 245.7, "y": 2.16}, {"s": "Exptl. for (+)-5", "x": 247.8, "y": 2.13}, {"s": "Exptl. for (+)-5", "x": 249.8, "y": 1.82}, {"s": "Exptl. for (+)-5", "x": 251.9, "y": 1.28}, {"s": "Exptl. for (+)-5", "x": 254, "y": 0.6}, {"s": "Exptl. for (+)-5", "x": 256.1, "y": 0.1}, {"s": "Exptl. for (+)-5", "x": 258.2, "y": -0.24}, {"s": "Exptl. for (+)-5", "x": 260.2, "y": -0.41}, {"s": "Exptl. for (+)-5", "x": 263.3, "y": -0.49}, {"s": "Exptl. for (+)-5", "x": 269.6, "y": -0.49}, {"s": "Exptl. for (+)-5", "x": 273.7, "y": -0.53}, {"s": "Exptl. for (+)-5", "x": 276.8, "y": -0.56}, {"s": "Exptl. for (+)-5", "x": 280, "y": -0.49}, {"s": "Exptl. for (+)-5", "x": 283.1, "y": -0.24}, {"s": "Exptl. for (+)-5", "x": 286.2, "y": 0.1}, {"s": "Exptl. for (+)-5", "x": 289.3, "y": 0.22}, {"s": "Exptl. for (+)-5", "x": 292.4, "y": 0.28}, {"s": "Exptl. for (+)-5", "x": 295.5, "y": 0.22}, {"s": "Exptl. for (+)-5", "x": 299.7, "y": 0.05}, {"s": "Exptl. for (+)-5", "x": 303.8, "y": -0.07}, {"s": "Exptl. for (+)-5", "x": 308, "y": -0.16}, {"s": "Exptl. for (+)-5", "x": 312.1, "y": -0.2}, {"s": "Exptl. for (+)-5", "x": 315.3, "y": -0.17}, {"s": "Exptl. for (+)-5", "x": 319.4, "y": -0.07}, {"s": "Exptl. for (+)-5", "x": 323.6, "y": 0.01}, {"s": "Exptl. for (+)-5", "x": 327.7, "y": -0.07}, {"s": "Exptl. for (+)-5", "x": 331.9, "y": -0.03}, {"s": "Exptl. for (+)-5", "x": 336, "y": 0.05}, {"s": "Exptl. for (+)-5", "x": 339.1, "y": 0.08}, {"s": "Exptl. for (+)-5", "x": 343.3, "y": -0.03}, {"s": "Exptl. for (+)-5", "x": 347.5, "y": 0}, {"s": "Exptl. for (+)-5", "x": 351.6, "y": 0.05}, {"s": "Exptl. for (+)-5", "x": 356.8, "y": 0.14}, {"s": "Exptl. for (+)-5", "x": 362, "y": 0.22}, {"s": "Exptl. for (+)-5", "x": 366.1, "y": 0.18}, {"s": "Exptl. for (+)-5", "x": 369.3, "y": 0.1}, {"s": "Exptl. for (+)-5", "x": 373.4, "y": 0.18}, {"s": "Exptl. for (+)-5", "x": 377.6, "y": 0.33}, {"s": "Exptl. for (+)-5", "x": 380.7, "y": 0.37}, {"s": "Exptl. for (+)-5", "x": 384.8, "y": 0.27}, {"s": "Exptl. for (+)-5", "x": 389, "y": 0.1}, {"s": "Exptl. for (+)-5", "x": 393.1, "y": 0.03}, {"s": "Exptl. for (+)-5", "x": 397.3, "y": -0.03}, {"s": "Exptl. for (+)-5", "x": 400, "y": -0.07},
      {"s": "Calcd. for (12R)-isomer", "x": 200, "y": 0.48}, {"s": "Calcd. for (12R)-isomer", "x": 204.2, "y": 0.73}, {"s": "Calcd. for (12R)-isomer", "x": 208.3, "y": 0.9}, {"s": "Calcd. for (12R)-isomer", "x": 211.4, "y": 0.94}, {"s": "Calcd. for (12R)-isomer", "x": 214.5, "y": 0.77}, {"s": "Calcd. for (12R)-isomer", "x": 218.7, "y": 0.56}, {"s": "Calcd. for (12R)-isomer", "x": 222.8, "y": 0.31}, {"s": "Calcd. for (12R)-isomer", "x": 226, "y": 0.1}, {"s": "Calcd. for (12R)-isomer", "x": 230.1, "y": -0.16}, {"s": "Calcd. for (12R)-isomer", "x": 234.3, "y": -0.58}, {"s": "Calcd. for (12R)-isomer", "x": 238.4, "y": -0.96}, {"s": "Calcd. for (12R)-isomer", "x": 241.5, "y": -1.21}, {"s": "Calcd. for (12R)-isomer", "x": 244.7, "y": -1.25}, {"s": "Calcd. for (12R)-isomer", "x": 247.8, "y": -1.08}, {"s": "Calcd. for (12R)-isomer", "x": 250.9, "y": -0.66}, {"s": "Calcd. for (12R)-isomer", "x": 254, "y": -0.24}, {"s": "Calcd. for (12R)-isomer", "x": 257.1, "y": 0.01}, {"s": "Calcd. for (12R)-isomer", "x": 261.3, "y": 0.27}, {"s": "Calcd. for (12R)-isomer", "x": 265.4, "y": 0.43}, {"s": "Calcd. for (12R)-isomer", "x": 269.6, "y": 0.48}, {"s": "Calcd. for (12R)-isomer", "x": 273.7, "y": 0.43}, {"s": "Calcd. for (12R)-isomer", "x": 277.9, "y": 0.22}, {"s": "Calcd. for (12R)-isomer", "x": 282, "y": 0.1}, {"s": "Calcd. for (12R)-isomer", "x": 286.2, "y": 0.08}, {"s": "Calcd. for (12R)-isomer", "x": 294.5, "y": 0.03}, {"s": "Calcd. for (12R)-isomer", "x": 304.9, "y": 0.01}, {"s": "Calcd. for (12R)-isomer", "x": 315.3, "y": 0}, {"s": "Calcd. for (12R)-isomer", "x": 325.6, "y": -0.07}, {"s": "Calcd. for (12R)-isomer", "x": 336, "y": -0.1}, {"s": "Calcd. for (12R)-isomer", "x": 346.4, "y": -0.1}, {"s": "Calcd. for (12R)-isomer", "x": 356.8, "y": -0.1}, {"s": "Calcd. for (12R)-isomer", "x": 367.2, "y": -0.05}, {"s": "Calcd. for (12R)-isomer", "x": 377.6, "y": -0.03}, {"s": "Calcd. for (12R)-isomer", "x": 388, "y": 0}, {"s": "Calcd. for (12R)-isomer", "x": 400, "y": 0}
    ]
  },
  "vconcat": [
    {
      "hconcat": [
        {
          "width": 320, "height": 238,
          "data": {"name": "p1"},
          "mark": {"type": "line"},
          "encoding": {
            "x": {"field": "x", "type": "quantitative", "scale": {"domain": [200, 400], "nice": false},
              "axis": {"title": "λ (nm)", "values": [200, 225, 250, 275, 300, 325, 350, 375, 400], "labelExpr": "datum.value % 50 == 0 ? datum.label : ''"}},
            "y": {"field": "y", "type": "quantitative", "scale": {"domain": [-100, 100], "nice": false},
              "axis": {"title": "ECD [m deg]", "values": [-100, -90, -80, -70, -60, -50, -40, -30, -20, -10, 0, 10, 20, 30, 40, 50, 60, 70, 80, 90, 100], "labelExpr": "datum.value % 20 == 0 ? replace(datum.label, '−', '-') : ''"}},
            "color": {"field": "s", "type": "nominal",
              "scale": {"domain": ["Exptl. for (−)-1", "Exptl. for (+)-1", "Calcd. for (12R)-isomer"], "range": ["#000000", "#ff0000", "#22ee22"]},
              "legend": {"title": null, "orient": "none", "legendX": 174, "legendY": -1.5}},
            "strokeDash": {"field": "s", "type": "nominal",
              "scale": {"domain": ["Exptl. for (−)-1", "Exptl. for (+)-1", "Calcd. for (12R)-isomer"], "range": [[1, 0], [1, 0], [12, 7]]},
              "legend": {"title": null, "orient": "none", "legendX": 174, "legendY": -1.5}}
          }
        },
        {
          "width": 322, "height": 238,
          "data": {"name": "p2"},
          "mark": {"type": "line"},
          "encoding": {
            "x": {"field": "x", "type": "quantitative", "scale": {"domain": [200, 400], "nice": false},
              "axis": {"title": "λ (nm)", "values": [200, 225, 250, 275, 300, 325, 350, 375, 400], "labelExpr": "datum.value % 50 == 0 ? datum.label : ''"}},
            "y": {"field": "y", "type": "quantitative", "scale": {"domain": [-100, 100], "nice": false},
              "axis": {"title": "ECD [m deg]", "values": [-100, -90, -80, -70, -60, -50, -40, -30, -20, -10, 0, 10, 20, 30, 40, 50, 60, 70, 80, 90, 100], "labelExpr": "datum.value % 20 == 0 ? replace(datum.label, '−', '-') : ''"}},
            "color": {"field": "s", "type": "nominal",
              "scale": {"domain": ["Exptl. for (−)-2", "Exptl. for (+)-2", "Calcd. for (12R)-isomer"], "range": ["#000000", "#ff0000", "#22ee22"]},
              "legend": {"title": null, "orient": "none", "legendX": 176, "legendY": -1.5}},
            "strokeDash": {"field": "s", "type": "nominal",
              "scale": {"domain": ["Exptl. for (−)-2", "Exptl. for (+)-2", "Calcd. for (12R)-isomer"], "range": [[1, 0], [1, 0], [12, 7]]},
              "legend": {"title": null, "orient": "none", "legendX": 176, "legendY": -1.5}}
          }
        }
      ],
      "spacing": 30,
      "resolve": {"scale": {"color": "independent", "strokeDash": "independent"}}
    },
    {
      "hconcat": [
        {
          "width": 320, "height": 238,
          "data": {"name": "p3"},
          "mark": {"type": "line"},
          "encoding": {
            "x": {"field": "x", "type": "quantitative", "scale": {"domain": [200, 400], "nice": false},
              "axis": {"title": "λ (nm)", "values": [200, 225, 250, 275, 300, 325, 350, 375, 400], "labelExpr": "datum.value % 50 == 0 ? datum.label : ''"}},
            "y": {"field": "y", "type": "quantitative", "scale": {"domain": [-100, 100], "nice": false},
              "axis": {"title": "ECD [m deg]", "values": [-100, -90, -80, -70, -60, -50, -40, -30, -20, -10, 0, 10, 20, 30, 40, 50, 60, 70, 80, 90, 100], "labelExpr": "datum.value % 20 == 0 ? replace(datum.label, '−', '-') : ''"}},
            "color": {"field": "s", "type": "nominal",
              "scale": {"domain": ["Exptl. for (−)-3", "Exptl. for (+)-3", "Calcd. for (1'Z&E, 12R)-isomer"], "range": ["#000000", "#ff0000", "#22ee22"]},
              "legend": {"title": null, "orient": "none", "legendX": 136, "legendY": -1.5}},
            "strokeDash": {"field": "s", "type": "nominal",
              "scale": {"domain": ["Exptl. for (−)-3", "Exptl. for (+)-3", "Calcd. for (1'Z&E, 12R)-isomer"], "range": [[1, 0], [1, 0], [12, 7]]},
              "legend": {"title": null, "orient": "none", "legendX": 136, "legendY": -1.5}}
          }
        },
        {
          "width": 322, "height": 238,
          "data": {"name": "p4"},
          "mark": {"type": "line"},
          "encoding": {
            "x": {"field": "x", "type": "quantitative", "scale": {"domain": [200, 400], "nice": false},
              "axis": {"title": "λ (nm)", "values": [200, 225, 250, 275, 300, 325, 350, 375, 400], "labelExpr": "datum.value % 50 == 0 ? datum.label : ''"}},
            "y": {"field": "y", "type": "quantitative", "scale": {"domain": [-100, 100], "nice": false},
              "axis": {"title": "ECD [mdeg]", "values": [-100, -90, -80, -70, -60, -50, -40, -30, -20, -10, 0, 10, 20, 30, 40, 50, 60, 70, 80, 90, 100], "labelExpr": "datum.value % 20 == 0 ? replace(datum.label, '−', '-') : ''"}},
            "color": {"field": "s", "type": "nominal",
              "scale": {"domain": ["Exptl. for (+)-4", "Exptl. for (−)-4", "Calcd. for (12R)-isomer"], "range": ["#000000", "#ff0000", "#22ee22"]},
              "legend": {"title": null, "orient": "none", "legendX": 176, "legendY": -1.5}},
            "strokeDash": {"field": "s", "type": "nominal",
              "scale": {"domain": ["Exptl. for (+)-4", "Exptl. for (−)-4", "Calcd. for (12R)-isomer"], "range": [[1, 0], [1, 0], [12, 7]]},
              "legend": {"title": null, "orient": "none", "legendX": 176, "legendY": -1.5}}
          }
        }
      ],
      "spacing": 30,
      "resolve": {"scale": {"color": "independent", "strokeDash": "independent"}}
    },
    {
      "width": 321, "height": 238,
      "data": {"name": "p5"},
      "mark": {"type": "line"},
      "encoding": {
        "x": {"field": "x", "type": "quantitative", "scale": {"domain": [200, 400], "nice": false},
          "axis": {"title": "λ (nm)", "values": [200, 225, 250, 275, 300, 325, 350, 375, 400], "labelExpr": "datum.value % 50 == 0 ? datum.label : ''"}},
        "y": {"field": "y", "type": "quantitative", "scale": {"domain": [-3, 3], "nice": false},
          "axis": {"title": "ECD [mdeg]", "format": "d", "values": [-3, -2.5, -2, -1.5, -1, -0.5, 0, 0.5, 1, 1.5, 2, 2.5, 3], "labelExpr": "datum.value % 1 == 0 ? replace(datum.label, '−', '-') : ''"}},
        "color": {"field": "s", "type": "nominal",
          "scale": {"domain": ["Exptl. for (−)-5", "Exptl. for (+)-5", "Calcd. for (12R)-isomer"], "range": ["#000000", "#ff0000", "#22ee22"]},
          "legend": {"title": null, "orient": "none", "legendX": 176, "legendY": -1.5}},
        "strokeDash": {"field": "s", "type": "nominal",
          "scale": {"domain": ["Exptl. for (−)-5", "Exptl. for (+)-5", "Calcd. for (12R)-isomer"], "range": [[1, 0], [1, 0], [12, 7]]},
          "legend": {"title": null, "orient": "none", "legendX": 176, "legendY": -1.5}}
      }
    }
  ],
  "resolve": {"scale": {"color": "independent", "strokeDash": "independent"}},
  "config": {
    "view": {"stroke": null},
    "line": {"interpolate": "monotone", "strokeWidth": 2.6},
    "axis": {
      "grid": false,
      "domainColor": "#000000",
      "domainWidth": 1,
      "tickColor": "#000000",
      "tickWidth": 1,
      "tickSize": {"condition": {"test": "datum.value % 50 == 0 || datum.value % 20 == 0 || datum.value % 1 == 0", "value": -4}, "value": -3},
      "labelPadding": 7,
      "labelFont": "Liberation Sans",
      "labelFontSize": 11,
      "labelColor": "#222222",
      "labelFlush": false,
      "labelOverlap": false,
      "titleFont": "Liberation Serif",
      "titleFontSize": 13,
      "titleFontWeight": "normal",
      "titleColor": "#333333",
      "titlePadding": 3
    },
    "axisY": {"minExtent": 27, "maxExtent": 27},
    "legend": {
      "symbolType": "M-2.5,0H2.5",
      "symbolSize": 144,
      "symbolStrokeWidth": 2.6,
      "labelFont": "Liberation Serif",
      "labelFontSize": 12.5,
      "labelColor": "#111111",
      "labelOffset": 12,
      "rowPadding": 1.5,
      "labelLimit": 300
    }
  }
}
